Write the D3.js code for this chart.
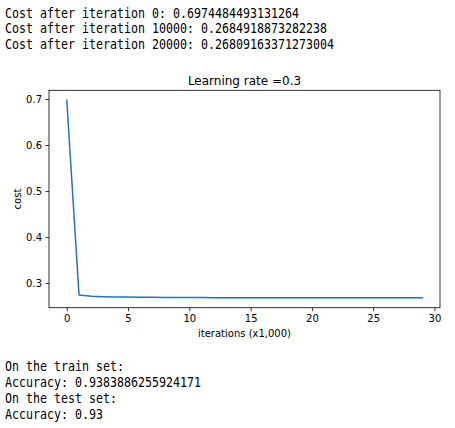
<!DOCTYPE html>
<html><head><meta charset="utf-8">
<script src="https://cdn.jsdelivr.net/npm/d3@7"></script>
<style>body{margin:0;background:#fff}svg{display:block}</style>
</head><body>
<script>
const topLines = [
  "Cost after iteration 0: 0.6974484493131264",
  "Cost after iteration 10000: 0.2684918873282238",
  "Cost after iteration 20000: 0.26809163371273004"
];
const bottomLines = [
  "On the train set:",
  "Accuracy: 0.9383886255924171",
  "On the test set:",
  "Accuracy: 0.93"
];
const iterations = d3.range(0, 30);
const costs = [0.6974, 0.2740, 0.2712, 0.2703, 0.2698, 0.2695, 0.2692, 0.2690, 0.2688, 0.2686,
  0.26849, 0.2684, 0.2683, 0.2683, 0.2682, 0.2682, 0.2682, 0.2681, 0.2681, 0.2681,
  0.26809, 0.2680, 0.2680, 0.2680, 0.2680, 0.2680, 0.2679, 0.2679, 0.2679, 0.2679];
const xTicks = [0, 5, 10, 15, 20, 25, 30];
const yTicks = [0.3, 0.4, 0.5, 0.6, 0.7];
const title = "Learning rate =0.3";
const xLabel = "iterations (x1,000)";
const yLabel = "cost";

const W = 455, H = 428;
const svg = d3.select("body").append("svg").attr("width", W).attr("height", H);

const mono = "'DejaVu Sans Mono', monospace";
function block(lines, y0) {
  svg.append("g").selectAll("text").data(lines).join("text")
    .attr("x", 5).attr("y", (d, i) => y0 + i * 15.9)
    .attr("font-family", mono).attr("font-size", 13.5)
    .attr("textLength", d => d.length * 7).attr("lengthAdjust", "spacingAndGlyphs")
    .attr("fill", "#000").text(d => d);
}
block(topLines, 17.5);
block(bottomLines, 371);

const L = 49, R = 440, T = 90.3, B = 307.7;
const xExt = d3.extent(iterations), xPad = (xExt[1] - xExt[0]) * 0.05;
const yExt = d3.extent(costs), yPad = (yExt[1] - yExt[0]) * 0.05;
const x = d3.scaleLinear().domain([xExt[0] - xPad, xExt[1] + xPad]).range([L, R]);
const y = d3.scaleLinear().domain([yExt[0] - yPad, yExt[1] + yPad]).range([B, T]);

const font = "'DejaVu Sans', sans-serif";
const xAxis = svg.append("g").attr("transform", `translate(0,${B})`)
  .call(d3.axisBottom(x).tickValues(xTicks).tickSize(3.5).tickPadding(3.5).tickFormat(d3.format("d")));
const yAxis = svg.append("g").attr("transform", `translate(${L},0)`)
  .call(d3.axisLeft(y).tickValues(yTicks).tickSize(3.5).tickPadding(3.5).tickFormat(d3.format(".1f")));
[xAxis, yAxis].forEach(a => {
  a.select(".domain").remove();
  a.selectAll("line").attr("stroke", "#000").attr("stroke-width", 0.8);
  a.selectAll("text").attr("font-family", font).attr("font-size", 10).attr("fill", "#000");
});

svg.append("path").datum(iterations)
  .attr("fill", "none").attr("stroke", "#1f77b4").attr("stroke-width", 1.5)
  .attr("stroke-linejoin", "round").attr("stroke-linecap", "square")
  .attr("d", d3.line().x(i => x(i)).y(i => y(costs[i])));

svg.append("rect").attr("x", L).attr("y", T).attr("width", R - L).attr("height", B - T)
  .attr("fill", "none").attr("stroke", "#000").attr("stroke-width", 0.8);

svg.append("text").attr("x", (L + R) / 2).attr("y", 85).attr("text-anchor", "middle")
  .attr("font-family", font).attr("font-size", 12).text(title);
svg.append("text").attr("x", (L + R) / 2).attr("y", 336.5).attr("text-anchor", "middle")
  .attr("font-family", font).attr("font-size", 10).text(xLabel);
svg.append("text").attr("transform", `translate(20.5,${(T + B) / 2}) rotate(-90)`).attr("text-anchor", "middle")
  .attr("font-family", font).attr("font-size", 10).text(yLabel);
</script>
</body></html>
